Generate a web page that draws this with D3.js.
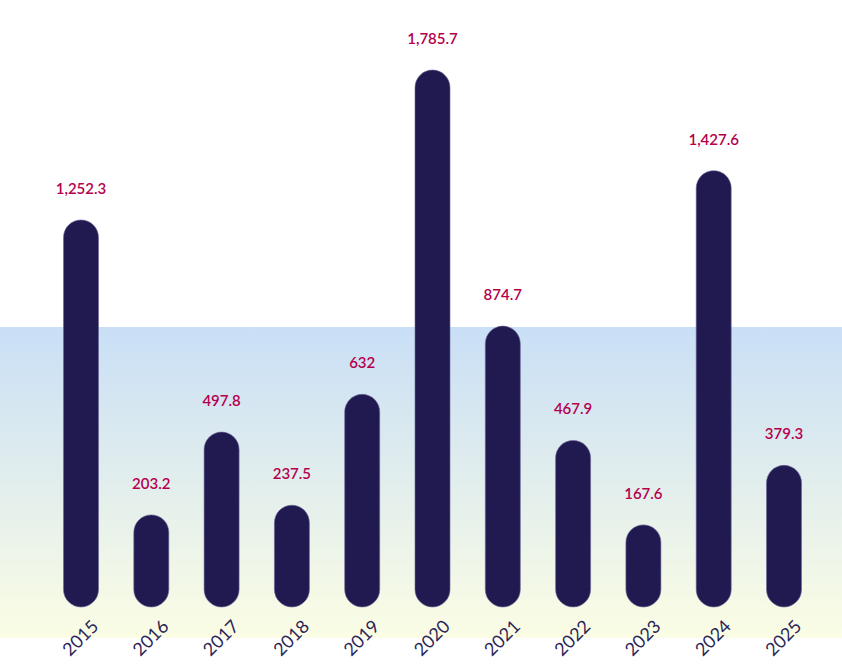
<!DOCTYPE html>
<html>
<head>
<meta charset="utf-8">
<script src="https://cdn.jsdelivr.net/npm/d3@7"></script>
<style>
  body { margin: 0; background: #fff; }
  svg { display: block; font-family: Lato, "Open Sans", sans-serif; }
</style>
</head>
<body>
<div id="chart"></div>
<script>
// years and values
var years = ["2015", "2016", "2017", "2018", "2019", "2020", "2021", "2022", "2023", "2024", "2025"];
var values = [1252.3, 203.2, 497.8, 237.5, 632, 1785.7, 874.7, 467.9, 167.6, 1427.6, 379.3];

var width = 842,
    height = 664;

var barW = 35,
    r = barW / 2;

var svg = d3.select("#chart")
    .append("svg")
    .attr("width", width)
    .attr("height", height);

// background band
var defs = svg.append("defs");
var grad = defs.append("linearGradient")
    .attr("id", "bg")
    .attr("x1", 0).attr("y1", 0)
    .attr("x2", 0).attr("y2", 1);
grad.append("stop").attr("offset", "0%").attr("stop-color", "#c9dff6");
grad.append("stop").attr("offset", "100%").attr("stop-color", "#fbfde4");

svg.append("rect")
    .attr("x", 0)
    .attr("y", 327)
    .attr("width", width)
    .attr("height", 311)
    .attr("fill", "url(#bg)");

var x = d3.scalePoint()
    .domain(years)
    .range([81, 784]);

var y = d3.scaleLinear()
    .domain([0, 1785.7])
    .range([589.5, 87.5]);

var data = years.map(function(d, i) { return { year: d, value: values[i] }; });

// bars with round caps: the caps stick out past both ends
svg.selectAll("rect.bar")
    .data(data)
    .enter()
    .append("rect")
    .attr("class", "bar")
    .attr("x", function(d) { return x(d.year) - r; })
    .attr("y", function(d) { return y(d.value) - r; })
    .attr("width", barW)
    .attr("height", function(d) { return y(0) - y(d.value) + barW; })
    .attr("rx", r)
    .attr("ry", r)
    .attr("fill", "#201a50")
    .attr("stroke", "#6c6797")
    .attr("stroke-width", 0.6);

svg.selectAll("text.value")
    .data(data)
    .enter()
    .append("text")
    .attr("class", "value")
    .attr("x", function(d) { return x(d.year); })
    .attr("y", function(d) { return y(d.value) - r - 26; })
    .attr("text-anchor", "middle")
    .attr("fill", "#b5004d")
    .style("font-size", "15px")
    .style("font-weight", 600)
    .text(function(d) { return d3.format(",")(d.value); });

svg.selectAll("text.year")
    .data(data)
    .enter()
    .append("text")
    .attr("class", "year")
    .attr("transform", function(d) {
        return "translate(" + (x(d.year) + 9) + "," + 618 + ") rotate(-45)";
    })
    .attr("text-anchor", "end")
    .attr("dy", "0.75em")
    .attr("fill", "#2b2558")
    .style("font-size", "18px")
    .text(function(d) { return d.year; });
</script>
</body>
</html>
